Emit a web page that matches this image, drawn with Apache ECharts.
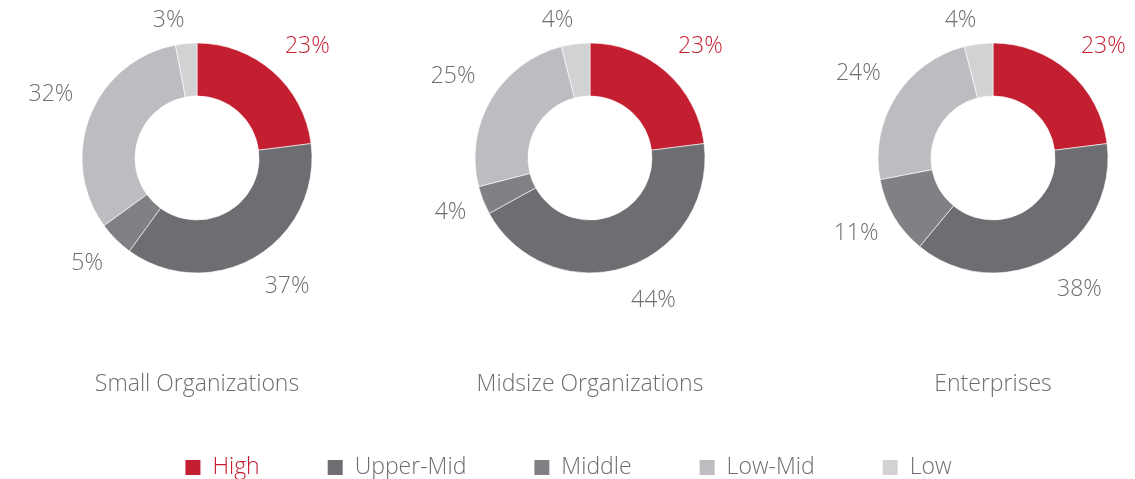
<!DOCTYPE html>
<html>
<head>
<meta charset="utf-8">
<script src="https://cdn.jsdelivr.net/npm/echarts@6/dist/echarts.min.js"></script>
<style>
  html, body { margin: 0; padding: 0; background: #ffffff; }
  #chart { width: 1135px; height: 479px; }
</style>
</head>
<body>
<div id="chart"></div>
<script>
// Spending tiers, in legend order
const tiers = ['High', 'Upper-Mid', 'Middle', 'Low-Mid', 'Low'];
const tierColors = ['#c41f30', '#6d6e72', '#808185', '#bcbdc0', '#d1d2d4'];

// Organisation groups, one donut each
const groups = ['Small Organizations', 'Midsize Organizations', 'Enterprises'];

// Share of each tier (%) per group, same order as tiers
const smallShares = [23, 37, 5, 32, 3];
const midsizeShares = [23, 44, 4, 25, 4];
const enterpriseShares = [23, 38, 11, 24, 4];

const groupShares = [smallShares, midsizeShares, enterpriseShares];
const centersX = [197, 590, 993];
const centerY = 158;

const FONT = '"Open Sans", sans-serif';
const GREY_TEXT = '#6d6e72';
const RED_TEXT = '#c41f30';

const chart = echarts.init(document.getElementById('chart'), null, { renderer: 'canvas' });

// Nudge outside labels away from the donut vertically: lower labels drop a bit,
// upper-side labels lift a bit more the further they sit from the top.
function spreadLabels(params) {
  const r = params.labelRect;
  const cx = centersX[params.seriesIndex];
  const lx = r.x + r.width / 2 - cx;
  const ly = r.y + r.height / 2 - centerY;
  const len = Math.sqrt(lx * lx + ly * ly) || 1;
  const ux = lx / len;
  const uy = ly / len;
  const dy = uy > 0 ? 18 * uy : -(12 * Math.abs(ux) + 3);
  return { dy: dy };
}

const series = groupShares.map((shares, gi) => ({
  type: 'pie',
  name: groups[gi],
  center: [centersX[gi], centerY],
  radius: [62, 115],
  startAngle: 90,
  clockwise: true,
  silent: true,
  avoidLabelOverlap: false,
  itemStyle: { borderColor: '#ffffff', borderWidth: 0.6 },
  label: {
    show: true,
    position: 'outside',
    formatter: '{c}%',
    fontFamily: FONT,
    fontWeight: 300,
    fontSize: 23,
    color: GREY_TEXT,
    distanceToLabelLine: 0
  },
  labelLine: { show: false, length: 18, length2: 0 },
  labelLayout: spreadLabels,
  data: tiers.map((t, i) => ({
    name: t,
    value: shares[i],
    itemStyle: { color: tierColors[i] },
    label: i === 0 ? { color: RED_TEXT } : undefined
  }))
}));

const titles = groups.map((g, gi) => ({
  text: g,
  left: centersX[gi],
  top: 373,
  padding: 0,
  textAlign: 'center',
  textStyle: {
    fontFamily: FONT,
    fontWeight: 300,
    fontSize: 23,
    color: GREY_TEXT
  }
}));

chart.setOption({
  animation: false,
  color: tierColors,
  title: titles,
  legend: {
    top: 456,
    left: 'center',
    padding: 0,
    itemWidth: 17,
    itemHeight: 17,
    itemGap: 66,
    icon: 'rect',
    selectedMode: false,
    textStyle: {
      fontFamily: FONT,
      fontWeight: 300,
      fontSize: 23,
      color: GREY_TEXT,
      padding: [0, 0, 0, 6]
    },
    data: tiers.map((t, i) => ({
      name: t,
      textStyle: i === 0 ? { color: RED_TEXT } : {}
    }))
  },
  series: series
});
</script>
</body>
</html>
